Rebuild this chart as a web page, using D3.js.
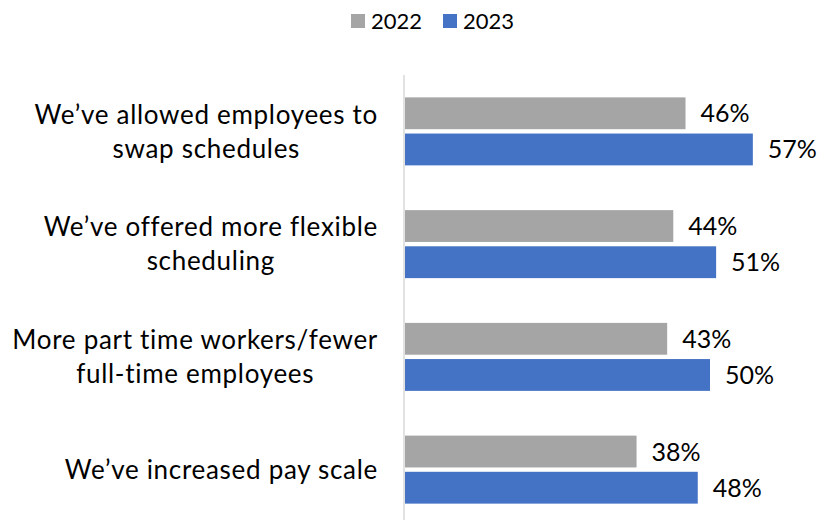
<!DOCTYPE html>
<html>
<head>
<meta charset="utf-8">
<script src="https://cdn.jsdelivr.net/npm/d3@7"></script>
<style>
  html, body { margin: 0; padding: 0; background: #fff; }
  svg { display: block; }
  text { font-family: Lato, "Open Sans", sans-serif; fill: #000; }
</style>
</head>
<body>
<svg id="chart" width="824" height="520"></svg>
<script>
// Survey responses: share of respondents per action, 2022 vs 2023
const categories = [
  ["We\u2019ve allowed employees to", "swap schedules"],
  ["We\u2019ve offered more flexible", "scheduling"],
  ["More part time workers/fewer", "full-time employees"],
  ["We\u2019ve increased pay scale"]
];
const seriesNames = ["2022", "2023"];
const values2022 = [46, 44, 43, 38];
const values2023 = [57, 51, 50, 48];
const colors = ["#A5A5A5", "#4472C4"];

const svg = d3.select("#chart");
const axisX = 404;

const x = d3.scaleLinear().domain([0, 100]).range([axisX, axisX + 612]);
const y = d3.scaleBand().domain(d3.range(categories.length)).range([75, 526]);
const inner = d3.scaleBand().domain(seriesNames).range([0, 68]).paddingInner(0.12);
const groupOffset = (y.bandwidth() - 68) / 2;

const rows = categories.map((c, i) => ({
  i,
  lines: c,
  vals: [values2022[i], values2023[i]]
}));

// category axis line
svg.append("line")
  .attr("x1", axisX).attr("x2", axisX)
  .attr("y1", 75).attr("y2", 520)
  .attr("stroke", "#D9D9D9").attr("stroke-width", 1.5);

const g = svg.selectAll("g.cat").data(rows).join("g")
  .attr("class", "cat")
  .attr("transform", d => `translate(0,${y(d.i) + groupOffset})`);

g.selectAll("rect").data(d => d.vals.map((v, k) => ({ v, k }))).join("rect")
  .attr("x", x(0) + 1)
  .attr("y", d => inner(seriesNames[d.k]))
  .attr("width", d => x(d.v) - x(0) - 1)
  .attr("height", inner.bandwidth())
  .attr("fill", d => colors[d.k]);

g.selectAll("text.val").data(d => d.vals.map((v, k) => ({ v, k }))).join("text")
  .attr("class", "val")
  .attr("x", d => x(d.v) + 15)
  .attr("y", d => inner(seriesNames[d.k]) + inner.bandwidth() / 2)
  .attr("dy", "0.36em")
  .attr("font-size", 25)
  .text(d => d.v + "%");

// category labels: wrapped lines centred on each other, block right aligned to the axis
const lineH = 34;
const labelRight = 378;
const labels = svg.selectAll("text.cat").data(rows).join("text")
  .attr("class", "cat")
  .attr("text-anchor", "middle")
  .attr("font-size", 26)
  .attr("letter-spacing", 0.7)
  .attr("y", d => y(d.i) + y.bandwidth() / 2 - (d.lines.length - 1) * lineH / 2);

labels.selectAll("tspan").data(d => d.lines).join("tspan")
  .attr("dy", (t, j) => j === 0 ? "0.36em" : lineH)
  .text(t => t);

labels.each(function () {
  const spans = d3.select(this).selectAll("tspan");
  let maxW = 0;
  spans.each(function () { maxW = Math.max(maxW, this.getComputedTextLength()); });
  spans.attr("x", labelRight - maxW / 2);
});

// legend
const legend = svg.append("g").attr("transform", "translate(351,0)");
const legendX = [0, 92];
seriesNames.forEach((name, k) => {
  legend.append("rect")
    .attr("x", legendX[k]).attr("y", 14)
    .attr("width", 14).attr("height", 14)
    .attr("fill", colors[k]);
  legend.append("text")
    .attr("x", legendX[k] + 20).attr("y", 21)
    .attr("dy", "0.36em")
    .attr("font-size", 22)
    .text(name);
});
</script>
</body>
</html>
